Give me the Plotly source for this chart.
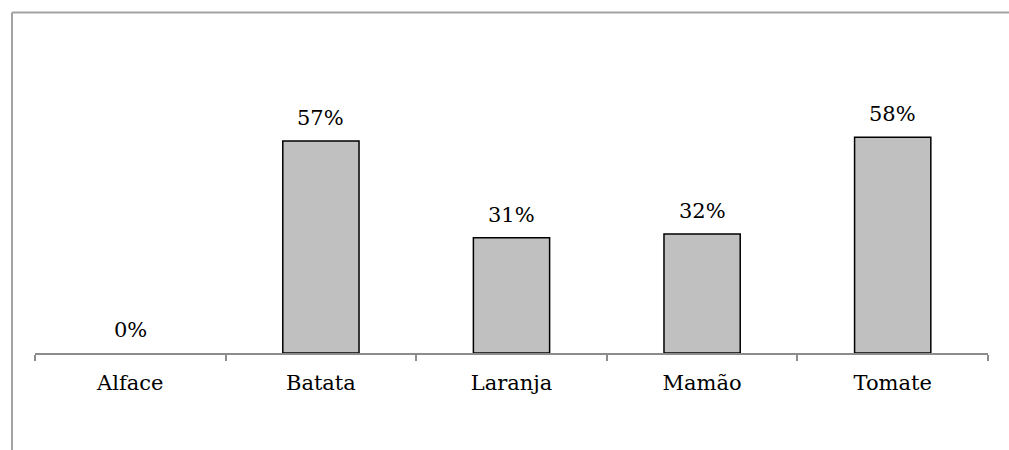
import plotly.graph_objects as go

categories = ["Alface", "Batata", "Laranja", "Mamão", "Tomate"]
values = [0, 57, 31, 32, 58]
labels = [f"{v}%" for v in values]

W, H = 1009, 450
L, R, T, B = 35, 21, 13, 97
plot_w = W - L - R
plot_h = H - T - B
y_max = plot_h / 3.72
SERIF = "DejaVu Serif"

fig = go.Figure()
fig.add_trace(go.Bar(
    x=categories,
    y=values,
    width=0.4,
    marker=dict(color="#c0c0c0",
                line=dict(color="#000000", width=[1.5 if v > 0 else 0 for v in values])),
    hoverinfo="skip",
))

# value labels above each bar
for c, v, t in zip(categories, values, labels):
    fig.add_annotation(
        x=c, y=v, text=t, showarrow=False,
        yanchor="bottom", yshift=9,
        font=dict(family=SERIF, size=21, color="#000000"),
    )

# outer chart frame (left and top edges visible)
fx = lambda px: (px - L) / plot_w
fy = lambda py: (H - B - py) / plot_h
frame = dict(color="#a3a3a3", width=2)
fig.add_shape(type="line", xref="paper", yref="paper",
              x0=fx(12), x1=fx(1012), y0=fy(12.5), y1=fy(12.5), line=frame)
fig.add_shape(type="line", xref="paper", yref="paper",
              x0=fx(12), x1=fx(12), y0=fy(12.5), y1=fy(455), line=frame)

fig.update_layout(
    width=W, height=H,
    margin=dict(l=L, r=R, t=T, b=B),
    paper_bgcolor="#ffffff",
    plot_bgcolor="#ffffff",
    showlegend=False,
    font=dict(family=SERIF, size=21, color="#000000"),
    xaxis=dict(
        type="category",
        range=[-0.5, 4.5],
        showline=True, linecolor="#8c8c8c", linewidth=1.5,
        ticks="outside", tickson="boundaries", ticklen=6,
        tickcolor="#8c8c8c", tickwidth=1.5,
        ticklabelstandoff=10,
        showgrid=False, zeroline=False,
        tickfont=dict(family=SERIF, size=21),
    ),
    yaxis=dict(
        range=[0, y_max],
        visible=False,
        showgrid=False, zeroline=False,
    ),
)

fig.write_html("out.html")
